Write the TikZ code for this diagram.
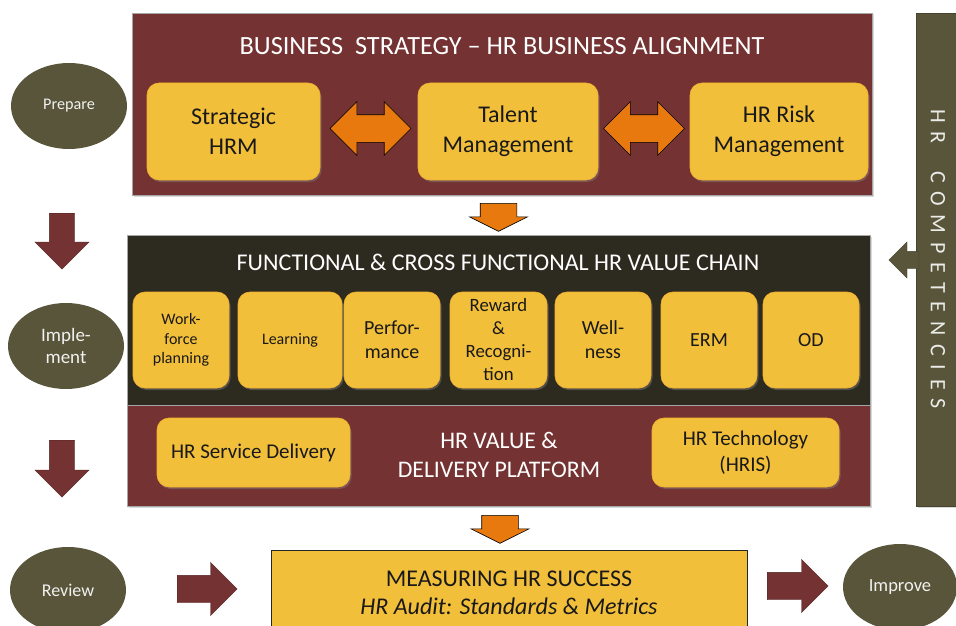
\documentclass[tikz,border=0pt]{standalone}
\usepackage{fontspec}
\setmainfont{Carlito}
\usetikzlibrary{positioning,shapes.geometric,shapes.arrows,shadows}

\definecolor{hrmaroon}{HTML}{743232}
\definecolor{hrdark}{HTML}{2D2A1F}
\definecolor{hrolive}{HTML}{58553A}
\definecolor{hrgold}{HTML}{F2BF3B}
\definecolor{hrorange}{HTML}{E8790F}

\begin{document}
\begin{tikzpicture}[x=1pt, y=-1pt,
    panel/.style={rectangle, draw=black!35, line width=.4pt, inner sep=0pt,
        drop shadow={opacity=.3, shadow xshift=1.5pt, shadow yshift=-1.5pt}},
    paneltitle/.style={text=white, font=\fontsize{24}{28}\selectfont, inner sep=0pt},
    topic/.style={rectangle, rounded corners=12pt, fill=hrgold, draw=hrgold!80!orange,
        line width=.6pt, text=black!90, align=center, inner sep=2pt,
        drop shadow={opacity=.45, shadow xshift=1.5pt, shadow yshift=-2pt}},
    stage/.style={ellipse, fill=hrolive, text=white!92!hrolive, inner sep=0pt,
        minimum width=116pt, minimum height=86pt, align=center},
    flow/.style={single arrow, fill=hrmaroon, draw=hrmaroon!70!black, line width=.3pt,
        single arrow tip angle=90, anchor=tail},
    down/.style={inner ysep=0pt, inner xsep=#1, shape border rotate=270},
    across/.style={inner xsep=0pt, inner ysep=#1},
    feed/.style={single arrow, fill=hrorange, draw=black, line width=.6pt,
        inner ysep=0pt, inner xsep=18pt, minimum width=57pt, minimum height=28pt,
        single arrow head extend=10.5pt, single arrow tip angle=127,
        shape border rotate=270, anchor=tail},
    link/.style={double arrow, fill=hrorange, draw=black, line width=.6pt,
        inner xsep=0pt, inner ysep=13.5pt, minimum width=53pt, minimum height=81pt,
        double arrow head extend=13pt, double arrow tip angle=90}
]
\useasboundingbox (0,0) rectangle (956,626);

% business strategy panel
\node (strategy) [panel, fill=hrmaroon, minimum width=740pt, minimum height=182pt] at (502,104) {};
\node (strategytitle) [paneltitle, font=\fontsize{26.3}{30}\selectfont] at (502,46)
    {BUSINESS\ \ STRATEGY -- HR BUSINESS ALIGNMENT};
\node (shrm) [topic, minimum width=173pt, minimum height=97pt,
    font=\fontsize{24}{30}\selectfont] at (233.5,131.5) {Strategic\\HRM};
\node (talent) [topic, minimum width=180pt, minimum height=97pt,
    font=\fontsize{24}{30}\selectfont] at (508,131.5) {Talent\\Management};
\node (risk) [topic, minimum width=178pt, minimum height=97pt,
    font=\fontsize{24}{30}\selectfont] at (779,131.5) {HR Risk\\Management};
\node (link1) [link] at (370.5,128.5) {};
\node (link2) [link] at (644,128.5) {};

\node (feed1) [feed] at (498.5,203) {};

% value chain panel
\node (chain) [panel, fill=hrdark, minimum width=743pt, minimum height=170pt] at (498.5,320) {};
\node (chaintitle) [paneltitle] at (498,262) {FUNCTIONAL \& CROSS FUNCTIONAL HR VALUE CHAIN};
\node (workforce) [topic, minimum width=96pt, minimum height=96pt,
    font=\fontsize{16}{19.5}\selectfont] at (181,340) {Work-\\force\\planning};
\node (learning) [topic, minimum width=104pt, minimum height=96pt,
    font=\fontsize{16}{19}\selectfont] at (290,340) {Learning};
\node (performance) [topic, minimum width=96pt, minimum height=96pt,
    font=\fontsize{20}{24}\selectfont] at (392,340) {Perfor-\\mance};
\node (reward) [topic, minimum width=97pt, minimum height=96pt,
    font=\fontsize{18.8}{23}\selectfont] at (498.5,340) {Reward\\\&\\Recogni-\\tion};
\node (wellness) [topic, minimum width=96pt, minimum height=96pt,
    font=\fontsize{20}{24}\selectfont] at (603,340) {Well-\\ness};
\node (erm) [topic, minimum width=96pt, minimum height=96pt,
    font=\fontsize{20}{24}\selectfont] at (709,340) {ERM};
\node (od) [topic, minimum width=96pt, minimum height=96pt,
    font=\fontsize{20}{24}\selectfont] at (811,340) {OD};

% delivery platform panel
\node (platform) [panel, fill=hrmaroon, minimum width=743pt, minimum height=101pt] at (498.5,455.5) {};
\node (platformtitle) [paneltitle, align=center, font=\fontsize{23.8}{29}\selectfont] at (499,455)
    {HR VALUE \&\\DELIVERY PLATFORM};
\node (service) [topic, minimum width=193pt, minimum height=69pt,
    font=\fontsize{21}{26}\selectfont] at (253.5,452.5) {HR Service Delivery};
\node (hris) [topic, minimum width=187pt, minimum height=69pt,
    font=\fontsize{21}{26}\selectfont] at (745.5,452.5) {HR Technology\\(HRIS)};

\node (feed2) [feed] at (500,515) {};

% measuring
\node (measure) [rectangle, fill=hrgold, draw=black!85, line width=.8pt,
    minimum width=476pt, minimum height=78pt, inner sep=0pt] at (509,589) {};
\node (measuretext) [align=center, font=\fontsize{24}{28}\selectfont, text=black!90]
    at (509,593) {MEASURING HR SUCCESS\\\textit{HR Audit: Standards \& Metrics}};

% competencies bar
\node (competencies) [panel, fill=hrolive, draw=hrolive!80!black,
    minimum width=40pt, minimum height=493pt] at (936,259.5) {};
\node (competenciestext) [rotate=-90, text=white!88!hrolive,
    font=\fontsize{22}{26}\selectfont\addfontfeatures{LetterSpace=40}] at (938,259)
    {HR\ \ COMPETENCIES};
\node (support) [single arrow, fill=hrolive, draw=hrolive!80!black, line width=.3pt,
    inner xsep=0pt, inner ysep=8.5pt, minimum width=36pt, minimum height=30pt,
    single arrow head extend=9.5pt, single arrow tip angle=90,
    shape border rotate=180, anchor=tail] at (919,260) {};

% cycle stages
\node (prepare) [stage, font=\fontsize{16.2}{20}\selectfont] at (69,106) {Prepare};
\node (implement) [stage, font=\fontsize{19}{22}\selectfont] at (66,346) {Imple-\\ment};
\node (review) [stage, font=\fontsize{18}{22}\selectfont] at (68,590) {Review};
\node (improve) [stage, minimum width=114pt, font=\fontsize{18.5}{22}\selectfont] at (900,587) {Improve};

\node (down1) [flow, down=12.5pt, minimum width=54pt, minimum height=56pt,
    single arrow head extend=14.5pt] at (62,213) {};
\node (down2) [flow, down=12.5pt, minimum width=54pt, minimum height=57pt,
    single arrow head extend=14.5pt] at (62,440) {};
\node (right1) [flow, across=13.5pt, minimum width=53pt, minimum height=60pt,
    single arrow head extend=13pt] at (177,589) {};
\node (right2) [flow, across=13.5pt, minimum width=53pt, minimum height=61pt,
    single arrow head extend=13pt] at (767,586) {};

\end{tikzpicture}
\end{document}
